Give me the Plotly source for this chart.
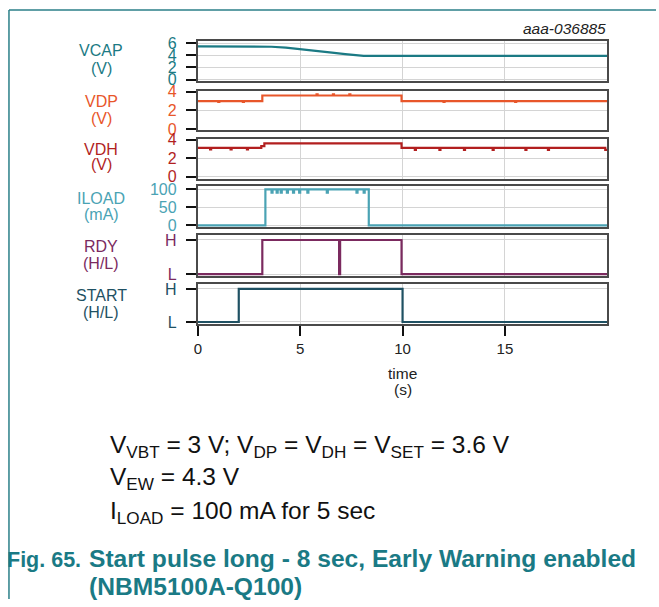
import plotly.graph_objects as go
from plotly.subplots import make_subplots

# ---- data -------------------------------------------------------------
vcap_t = [0, 1.5, 3.0, 3.6, 4.3, 5.1, 5.8, 6.55, 7.2, 7.7, 8.1, 10, 20]
vcap_v = [5.45, 5.45, 5.45, 5.4, 5.25, 5.0, 4.75, 4.45, 4.2, 4.0, 3.9, 3.9, 3.9]

vdp_t = [0, 1.0, 1.05, 2.2, 2.25, 3.15, 5.8, 5.85, 6.6, 6.65, 7.4, 7.45, 9.95, 12.0, 12.05, 15.5, 15.55, 20]
vdp_v = [3.0, 2.9, 3.0, 2.9, 3.0, 3.6, 3.72, 3.6, 3.72, 3.6, 3.72, 3.6, 3.0, 2.9, 3.0, 2.9, 3.0, 3.0]

vdh_t = [0, 0.6, 0.65, 1.6, 1.65, 2.4, 2.45, 3.1, 3.25, 9.95, 10.6, 10.65, 11.8, 11.85, 13.0, 13.05,
         14.4, 14.45, 16.0, 16.05, 17.1, 17.15, 19.9, 20]
vdh_v = [3.1, 2.95, 3.1, 2.95, 3.1, 2.95, 3.1, 3.3, 3.6, 3.1, 2.9, 3.1, 2.9, 3.1, 2.9, 3.1,
         2.9, 3.1, 2.9, 3.1, 2.9, 3.1, 2.9, 2.9]

iload_t = [0, 3.3, 3.6, 3.65, 3.85, 3.9, 4.05, 4.1, 4.35, 4.4, 4.65, 4.7, 4.95, 5.0,
           5.35, 5.4, 6.3, 6.35, 7.75, 7.8, 8.1, 8.15, 8.35, 20]
iload_v = [0, 100, 91, 100, 91, 100, 91, 100, 91, 100, 91, 100, 91, 100,
           91, 100, 91, 100, 91, 100, 91, 100, 0, 0]

rdy_t = [0, 3.15, 6.9, 6.95, 9.95, 20]
rdy_v = [0, 1, 0, 1, 0, 0]

start_t = [0, 2.0, 10.0, 20]
start_v = [0, 1, 0, 0]

names = ["VCAP", "VDP", "VDH", "ILOAD", "RDY", "START"]
units = ["(V)", "(V)", "(V)", "(mA)", "(H/L)", "(H/L)"]
colors = ["#1b7a84", "#e8562a", "#b21f1f", "#4aa3b4", "#7b2a5f", "#1f5163"]
series_t = [vcap_t, vdp_t, vdh_t, iload_t, rdy_t, start_t]
series_v = [vcap_v, vdp_v, vdh_v, iload_v, rdy_v, start_v]
shapes_line = ["linear", "hv", "hv", "hv", "hv", "hv"]

tick_vals = [[0, 2, 4, 6], [0, 2, 4], [0, 2, 4], [0, 50, 100], [0, 1], [0, 1]]
tick_text = [["0", "2", "4", "6"], ["0", "2", "4"], ["0", "2", "4"], ["0", "50", "100"],
             ["L", "H"], ["L", "H"]]
y_ranges = [[-0.24, 6.32], [-0.1, 4.1], [-0.2, 4.1], [-5.4, 108], [-0.06, 1.14], [-0.06, 1.15]]
x_ticks = [0, 5, 10, 15]

# ---- geometry (pixels) ------------------------------------------------
W, H = 659, 607
panel_px = [(35, 76), (86, 126), (135, 176), (184, 226), (234, 276), (284, 325)]
label_px = [(45, 63), (97, 114), (146, 162), (196, 213), (246, 263), (296, 313)]
x_px = (195, 607)


def py(p):
    return 1 - p / H


def px(p):
    return p / W


fig = make_subplots(rows=6, cols=1, shared_xaxes=True)

FONT = "Liberation Sans, Arial, sans-serif"

for i in range(6):
    fig.add_trace(
        go.Scatter(x=series_t[i], y=series_v[i], mode="lines",
                   line=dict(color=colors[i], width=2.2, shape=shapes_line[i]),
                   showlegend=False, hoverinfo="skip"),
        row=i + 1, col=1)
    top, bot = panel_px[i]
    yname = "yaxis" if i == 0 else f"yaxis{i + 1}"
    xname = "xaxis" if i == 0 else f"xaxis{i + 1}"
    fig.layout[yname].update(
        domain=[py(bot), py(top)], range=y_ranges[i],
        tickmode="array", tickvals=tick_vals[i], ticktext=tick_text[i],
        ticks="outside", ticklen=10, tickwidth=1.5, tickcolor="#111",
        ticklabelstandoff=6,
        tickfont=dict(family=FONT, size=16, color=colors[i]),
        showgrid=True, gridcolor="#d4d4d4", gridwidth=1,
        zeroline=False, showline=True, mirror=True,
        linecolor="#4a4a4a", linewidth=2, fixedrange=True)
    last = i == 5
    fig.layout[xname].update(
        domain=[px(x_px[0]), px(x_px[1])], range=[0, 20],
        tickmode="array", tickvals=x_ticks,
        ticktext=[str(v) for v in x_ticks],
        showticklabels=last, ticks="outside" if last else "",
        ticklen=10, tickwidth=1.5, tickcolor="#111",
        tickfont=dict(family=FONT, size=15, color="#222"),
        showgrid=True, gridcolor="#d4d4d4", gridwidth=1,
        zeroline=False, showline=True, mirror=True,
        linecolor="#4a4a4a", linewidth=2, fixedrange=True)

    # channel name and unit at the left
    for txt, yy in zip((names[i], units[i]), label_px[i]):
        fig.add_annotation(x=px(98), y=py(yy), xref="paper", yref="paper",
                           text=txt, showarrow=False,
                           xanchor="center", yanchor="middle",
                           font=dict(family=FONT, size=16, color=colors[i]))

# figure id
fig.add_annotation(x=px(608), y=py(22), xref="paper", yref="paper",
                   text="<i>aaa-036885</i>", showarrow=False,
                   xanchor="right", yanchor="middle",
                   font=dict(family=FONT, size=15.5, color="#222"))

# x-axis title
for txt, yy in (("time", 376), ("(s)", 392)):
    fig.add_annotation(x=px(401), y=py(yy), xref="paper", yref="paper",
                       text=txt, showarrow=False,
                       xanchor="center", yanchor="middle",
                       font=dict(family=FONT, size=15.5, color="#222"))

# conditions
cond_lines = [
    ("V<sub>VBT</sub> = 3 V; V<sub>DP</sub> = V<sub>DH</sub> = V<sub>SET</sub> = 3.6 V", 451),
    ("V<sub>EW</sub> = 4.3 V", 483),
    ("I<sub>LOAD</sub> = 100 mA for 5 sec", 518),
]
for txt, yy in cond_lines:
    fig.add_annotation(x=px(105), y=py(yy), xref="paper", yref="paper",
                       text=txt, showarrow=False, xanchor="left", yanchor="middle",
                       align="left", font=dict(family=FONT, size=24.5, color="#111"))

# figure caption
cap_color = "#1a7a85"
fig.add_annotation(x=px(1), y=py(567.5), xref="paper", yref="paper",
                   text="<b>Fig. 65.</b>", showarrow=False, xanchor="left", yanchor="middle",
                   font=dict(family=FONT, size=21.5, color=cap_color))
fig.add_annotation(x=px(84), y=py(565), xref="paper", yref="paper",
                   text="<b>Start pulse long - 8 sec, Early Warning enabled</b>",
                   showarrow=False, xanchor="left", yanchor="middle",
                   font=dict(family=FONT, size=24.6, color=cap_color))
fig.add_annotation(x=px(84), y=py(594), xref="paper", yref="paper",
                   text="<b>(NBM5100A-Q100)</b>",
                   showarrow=False, xanchor="left", yanchor="middle",
                   font=dict(family=FONT, size=24.6, color=cap_color))

# frame lines
frame_color = "#2b7f88"
fig.add_shape(type="line", xref="paper", yref="paper",
              x0=px(5), x1=px(5), y0=0, y1=py(3),
              line=dict(color=frame_color, width=1.5))
fig.add_shape(type="line", xref="paper", yref="paper",
              x0=px(5), x1=px(656), y0=py(3), y1=py(3),
              line=dict(color=frame_color, width=1.5))

fig.update_layout(width=W, height=H, margin=dict(l=0, r=0, t=0, b=0),
                  paper_bgcolor="white", plot_bgcolor="white")

fig.write_html("out.html")
